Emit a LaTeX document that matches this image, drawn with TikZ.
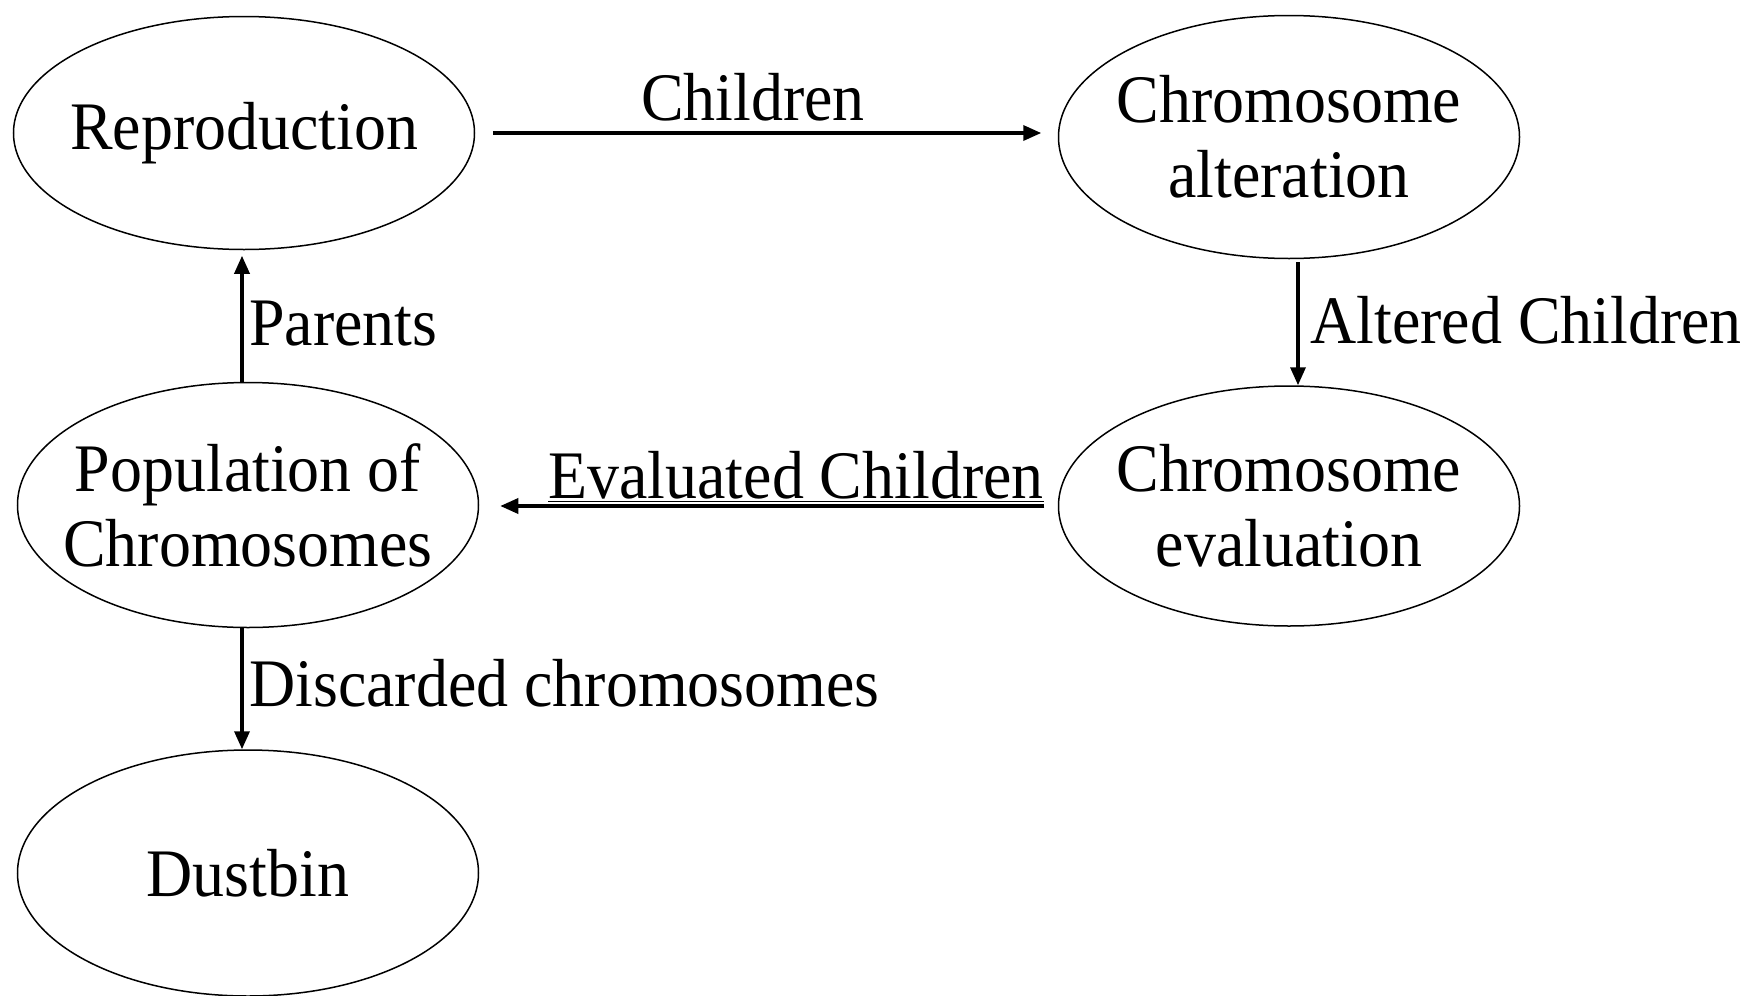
\documentclass[tikz,border=0pt]{standalone}
\usepackage{fontspec}
\setmainfont{Liberation Serif}[FakeStretch=0.94]
\usetikzlibrary{arrows.meta,shapes.geometric}
\begin{document}
\begin{tikzpicture}[x=0.5pt,y=-0.5pt,
  every node/.style={font=\fontsize{34}{37.5}\selectfont},
  stage/.style={draw, ellipse, line width=0.75pt, inner xsep=-30pt, inner ysep=0pt,
    align=center, minimum width=230.5pt, minimum height=#1},
  flow/.style={line width=1.7pt, -{Triangle[length=9pt,width=7.5pt]}},
  lbl/.style={anchor=base west, inner sep=0pt}]
\useasboundingbox (0,0) rectangle (1762,996);

% process stages
\node[stage=116.5pt] (rep)  at (244,133)  {Reproduction};
\node[stage=121.5pt] (alt)  at (1289,137) {Chromosome\\alteration};
\node[stage=122.5pt] (pop)  at (248,505)  {Population of\\Chromosomes};
\node[stage=120pt]   (eva)  at (1289,506) {Chromosome\\evaluation};
\node[stage=123pt]   (dust) at (248,873)  {Dustbin};

% flows between stages
\draw[flow, shorten <=8.75pt, shorten >=8.25pt] (rep.east) -- (rep.east -| alt.west);
\draw[flow, shorten >=2.75pt] ([xshift=-3pt]pop.north) -- ([xshift=-3pt]pop.north |- rep.south);
\draw[flow, shorten <=1.5pt] ([xshift=4.5pt]alt.south) -- ([xshift=4.5pt]alt.south |- eva.north);
\draw[flow, shorten <=6.75pt, shorten >=10.5pt] (eva.west) -- (eva.west -| pop.east);
\draw[flow] ([xshift=-3pt]pop.south) -- ([xshift=-3pt]pop.south |- dust.north);

% flow labels
\node[lbl, anchor=base] (lchildren) at (753,120) {Children};
\node[lbl] (lparents)   at (249,345)  {Parents};
\node[lbl] (laltered)   at (1310,343) {Altered Children};
\node[lbl] (levaluated) at (548,498)  {\underline{Evaluated Children}};
\node[lbl] (ldiscarded) at (249,706)  {Discarded chromosomes};
\end{tikzpicture}
\end{document}
